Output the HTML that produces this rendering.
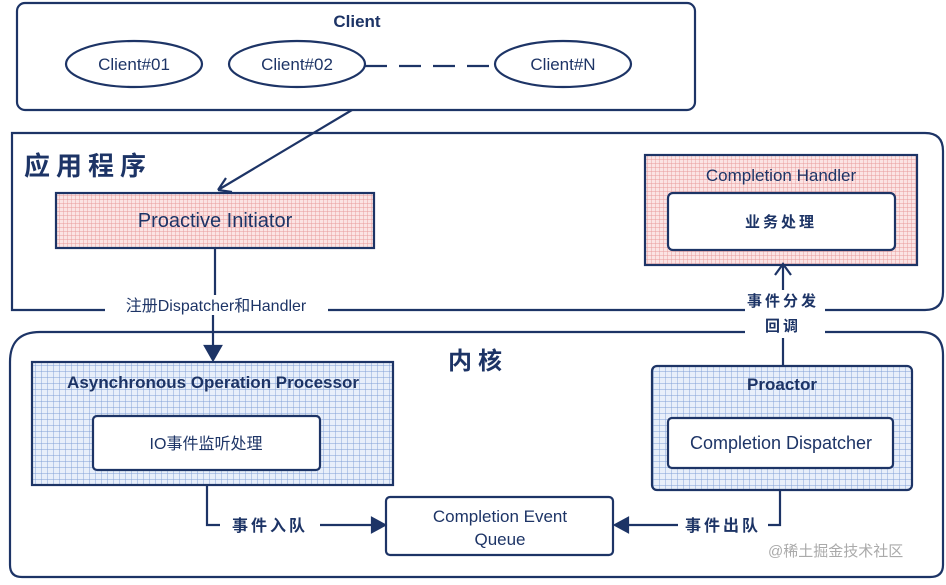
<!DOCTYPE html>
<html><head><meta charset="utf-8"><style>
body{margin:0;background:#fff;}
svg text{font-family:"Liberation Sans","Noto Sans CJK SC",sans-serif;fill:#1d3466;}
</style></head><body>
<svg width="946" height="580" viewBox="0 0 946 580" xmlns="http://www.w3.org/2000/svg">
<defs>
<pattern id="pg" width="4" height="4" patternUnits="userSpaceOnUse"><rect width="4" height="4" fill="#fbe4e4"/><path d="M4 0V4M0 4H4" stroke="#e89a9a" stroke-width="0.9"/></pattern>
<pattern id="bg" width="6" height="6" patternUnits="userSpaceOnUse"><rect width="6" height="6" fill="#e8effa"/><path d="M6 0V6M0 6H6" stroke="#7f9fd6" stroke-width="0.9"/></pattern>
</defs>
<g fill="none" stroke="#1d3466" stroke-width="2.2">
<rect x="17" y="3" width="678" height="107" rx="8"/>
<ellipse cx="134" cy="64" rx="68" ry="23"/>
<ellipse cx="297" cy="64" rx="68" ry="23"/>
<ellipse cx="563" cy="64" rx="68" ry="23"/>
<path d="M365 66H495" stroke-dasharray="22,12"/>
<path d="M352 110L218 190M218 190l8-12M218 190l14 2"/>
<path d="M745 310H328M105 310H12V133H925Q943 133 943 151V292Q943 310 925 310H825"/>
<rect x="56" y="193" width="318" height="55" fill="url(#pg)"/>
<path d="M215 248V295"/>
<path d="M213 315V348"/>
<path d="M205 346h16l-8 14z" fill="#1d3466"/>
<path d="M745 332H40Q10 332 10 362V565Q10 577 22 577H930Q943 577 943 565V355Q943 332 920 332H825"/>
<rect x="32" y="362" width="361" height="123" fill="url(#bg)"/>
<rect x="93" y="416" width="227" height="54" rx="4" fill="#fff"/>
<rect x="645" y="155" width="272" height="110" fill="url(#pg)"/>
<rect x="668" y="193" width="227" height="57" rx="5" fill="#fff"/>
<rect x="652" y="366" width="260" height="124" rx="5" fill="url(#bg)"/>
<rect x="668" y="418" width="225" height="50" rx="4" fill="#fff"/>
<path d="M783 290V264M775 275l8-11 8 11"/>
<path d="M783 338V365"/>
<rect x="386" y="497" width="227" height="58" rx="4" fill="#fff"/>
<path d="M207 485V525H220M320 525H372"/>
<path d="M372 518l13 7-13 7z" fill="#1d3466"/>
<path d="M780 490V525H768M678 525H628"/>
<path d="M628 518l-13 7 13 7z" fill="#1d3466"/>
</g>
<text x="357" y="27" font-size="17" font-weight="bold" text-anchor="middle">Client</text>
<text x="134" y="70" font-size="17" text-anchor="middle">Client#01</text>
<text x="297" y="70" font-size="17" text-anchor="middle">Client#02</text>
<text x="563" y="70" font-size="17" text-anchor="middle">Client#N</text>
<text x="24" y="175" font-size="26" font-weight="bold" letter-spacing="6" font-family="Noto Serif CJK SC">应用程序</text>
<text x="215" y="227" font-size="20" text-anchor="middle">Proactive Initiator</text>
<text x="216" y="311" font-size="16" text-anchor="middle">注册Dispatcher和Handler</text>
<text x="448" y="369" font-size="24" font-weight="bold" letter-spacing="6" font-family="Noto Serif CJK SC">内核</text>
<text x="213" y="388" font-size="17" font-weight="bold" text-anchor="middle">Asynchronous Operation Processor</text>
<text x="206" y="449" font-size="16" text-anchor="middle">IO事件监听处理</text>
<text x="781" y="181" font-size="17" text-anchor="middle">Completion Handler</text>
<text x="781" y="227" font-size="15" font-weight="bold" text-anchor="middle" letter-spacing="3">业务处理</text>
<text x="783" y="306" font-size="15" font-weight="bold" text-anchor="middle" letter-spacing="3">事件分发</text>
<text x="783" y="331" font-size="15" font-weight="bold" text-anchor="middle" letter-spacing="3">回调</text>
<text x="782" y="390" font-size="17" font-weight="bold" text-anchor="middle">Proactor</text>
<text x="781" y="449" font-size="18" text-anchor="middle">Completion Dispatcher</text>
<text x="500" y="522" font-size="17" text-anchor="middle">Completion Event</text>
<text x="500" y="545" font-size="17" text-anchor="middle">Queue</text>
<text x="270" y="531" font-size="16" font-weight="bold" text-anchor="middle" letter-spacing="3">事件入队</text>
<text x="723" y="531" font-size="16" font-weight="bold" text-anchor="middle" letter-spacing="3">事件出队</text>
<text x="768" y="556" font-size="15" style="fill:#aaa">@稀土掘金技术社区</text>
</svg>
</body></html>
